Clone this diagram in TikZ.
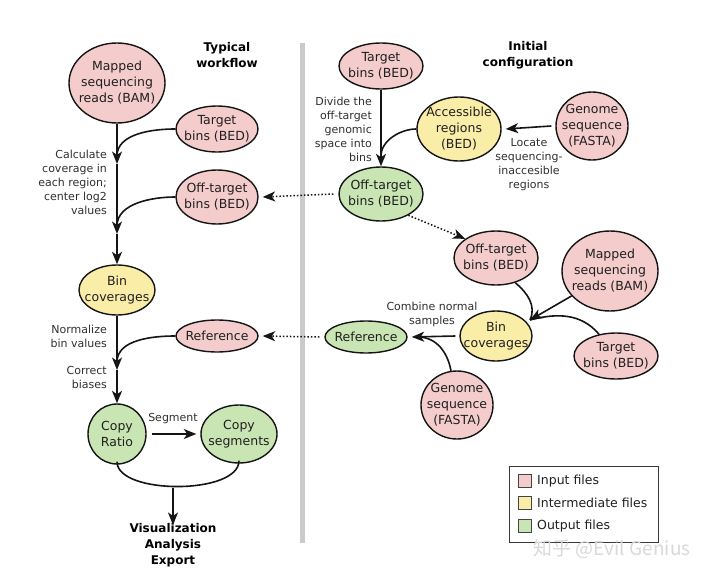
\documentclass[tikz,border=0pt]{standalone}
\usepackage{fontspec}
\setmainfont{DejaVu Sans}
\newfontfamily\cjk{Noto Sans CJK SC}
\usetikzlibrary{shapes.geometric,arrows.meta}
\definecolor{pinkf}{HTML}{F4CCCC}
\definecolor{yelf}{HTML}{FAEDA8}
\definecolor{grnf}{HTML}{C9E5B4}
\definecolor{edge}{HTML}{151515}
\definecolor{txt}{HTML}{202020}
\definecolor{anntxt}{HTML}{303030}
\definecolor{divider}{HTML}{CACACA}
\newcommand\blob[7]{%
  \node[blobshape, minimum width=#4pt, minimum height=#5pt, fill=#6] (#1) at (#2,#3) {};
  \node[nodetext] (#1-t) at (#1.center) {#7};}
\tikzset{
  blobshape/.style={ellipse, draw=edge, line width=1.4pt, inner sep=0pt},
  nodetext/.style={font=\fontsize{12.5}{16}\selectfont, align=center, text=txt, inner sep=0pt},
  ann/.style={font=\fontsize{11}{14}\selectfont, text=anntxt, inner sep=0pt},
  ttl/.style={font=\bfseries\fontsize{12}{16}\selectfont, align=center, inner sep=0pt, text=black},
  arr/.style={line width=1.6pt, draw=edge, -{Stealth[length=12.5pt,width=10pt,inset=3.5pt]}},
  con/.style={line width=1.6pt, draw=edge},
  dots/.style={line width=1.5pt, dotted, draw=edge, -{Stealth[length=12.5pt,width=10pt,inset=3.5pt]}},
  legsq/.style={draw=edge!80, line width=0.8pt, minimum width=13pt, minimum height=13pt, inner sep=0pt},
  legtxt/.style={font=\fontsize{12.5}{16}\selectfont, text=txt, anchor=west, inner sep=0pt},
}
\begin{document}
\begin{tikzpicture}[x=1pt,y=-1pt]
\useasboundingbox (0,0) rectangle (720,578);
\fill[white] (0,0) rectangle (720,578);
% divider
\fill[divider] (299.5,43) rectangle (304.5,543);
% titles
\node[ttl] (t1) at (227,55) {Typical\\workflow};
\node[ttl] (t2) at (528,55) {Initial\\configuration};
% ---------- left column ----------
\blob{mapL}{117}{83}{96}{80}{pinkf}{Mapped\\sequencing\\reads (BAM)}
\blob{tgtL}{217}{129}{82}{46}{pinkf}{Target\\bins (BED)}
\blob{offL}{217}{197}{82}{54}{pinkf}{Off-target\\bins (BED)}
\blob{binL}{117}{290}{76}{50}{yelf}{Bin\\coverages}
\blob{refL}{217}{336}{82}{32}{pinkf}{Reference}
\blob{cr}{117}{434}{58}{60}{grnf}{Copy\\Ratio}
\blob{cs}{239}{434}{76}{58}{grnf}{Copy\\segments}
\coordinate (j1) at (117,164);
\coordinate (j1a) at (117,156);
\coordinate (j2) at (117,234);
\coordinate (j2a) at (117,226);
\coordinate (j3) at (117,370);
\coordinate (j3a) at (117,362);
\draw[arr] (mapL.south) -- (j1);
\draw[con] (tgtL.west) to[out=180,in=90,looseness=0.9] (j1a);
\draw[arr] (j1) -- (j2);
\draw[con] (offL.west) to[out=180,in=90,looseness=0.9] (j2a);
\draw[arr] (j2) -- (binL.north);
\draw[arr] (binL.south) -- (j3);
\draw[con] (refL.west) to[out=180,in=90,looseness=0.9] (j3a);
\draw[arr] (j3) -- (cr.north);
\node[ann, align=right, anchor=east] (a1) at (107,182) {Calculate\\coverage in\\each region;\\center log2\\values};
\node[ann, align=right, anchor=east] (a2) at (107,336) {Normalize\\bin values};
\node[ann, align=right, anchor=east] (a3) at (107,377) {Correct\\biases};
\draw[arr] ([xshift=5pt]cr.east) -- ([xshift=-4pt]cs.west);
\node[ann] (seg) at (173,419) {Segment};
\coordinate (j6) at (173,488);
\draw[con] ([yshift=3pt]cr.south) .. controls (117,495) and (239,495) .. ([yshift=3pt]cs.south);
\node[ttl] (vis) at (173,545) {Visualization\\Analysis\\Export};
\draw[arr] (j6) -- ([yshift=-2pt]vis.north);
% ---------- right column ----------
\blob{tgtR}{381}{66}{84}{46}{pinkf}{Target\\bins (BED)}
\blob{acc}{459}{129}{84}{64}{yelf}{Accessible\\regions\\(BED)}
\blob{genT}{592}{126}{72}{68}{pinkf}{Genome\\sequence\\(FASTA)}
\blob{offR}{381}{194}{84}{54}{grnf}{Off-target\\bins (BED)}
\blob{offM}{496}{258}{84}{54}{pinkf}{Off-target\\bins (BED)}
\blob{mapR}{610}{271}{96}{80}{pinkf}{Mapped\\sequencing\\reads (BAM)}
\blob{binR}{496}{336}{72}{50}{yelf}{Bin\\coverages}
\blob{tgtRR}{616}{356}{84}{46}{pinkf}{Target\\bins (BED)}
\blob{refR}{366}{337}{82}{32}{grnf}{Reference}
\blob{genL}{457}{405}{72}{68}{pinkf}{Genome\\sequence\\(FASTA)}
\coordinate (j4) at (381,156);
\draw[arr] (tgtR.south) -- (offR.north);
\draw[con] (acc.west) to[out=180,in=90,looseness=0.9] (j4);
\draw[arr] ([xshift=-4pt]genT.west) -- ([xshift=4pt]acc.east);
\node[ann, align=center] (a4) at (529,165) {Locate\\sequencing-\\inaccesible\\regions};
\node[ann, align=right, anchor=east] (a5) at (372,129) {Divide the\\off-target\\genomic\\space into\\bins};
\draw[dots] ([xshift=-5pt]offR.west) -- ([xshift=4pt]offL.east);
\draw[dots] (offR.-38) -- (offM.148);
\coordinate (j5) at (530,320);
\draw[con] (offM.-52) to[out=-40,in=65] (j5);
\draw[con] (tgtRR.128) to[out=130,in=15] (j5);
\draw[arr] (mapR.213) -- (j5);
\coordinate (j7) at (418,337);
\draw[arr] ([xshift=-4pt]binR.west) -- ([xshift=4pt]refR.east);
\draw[con] (genL.100) to[out=100,in=0] (j7);
\node[ann, align=center] (a6) at (432,314) {Combine normal\\samples};
\draw[dots] ([xshift=-5pt]refR.west) -- ([xshift=4pt]refL.east);
% ---------- legend ----------
\node[draw=edge!85, line width=0.9pt, minimum width=149pt, minimum height=76pt, inner sep=0pt] (leg) at (583.5,504) {};
\node[legsq, fill=pinkf] (lq1) at (524.5,481) {};
\node[legsq, fill=yelf] (lq2) at (524.5,503) {};
\node[legsq, fill=grnf] (lq3) at (524.5,526) {};
\node[legtxt] (lt1) at (537,481) {Input files};
\node[legtxt] (lt2) at (537,503) {Intermediate files};
\node[legtxt] (lt3) at (537,526) {Output files};
% watermark
\node[font=\cjk\fontsize{19}{22}\selectfont, text=black!15, inner sep=0pt] (wm) at (612,549) {知乎 @Evil Genius};
\end{tikzpicture}
\end{document}
